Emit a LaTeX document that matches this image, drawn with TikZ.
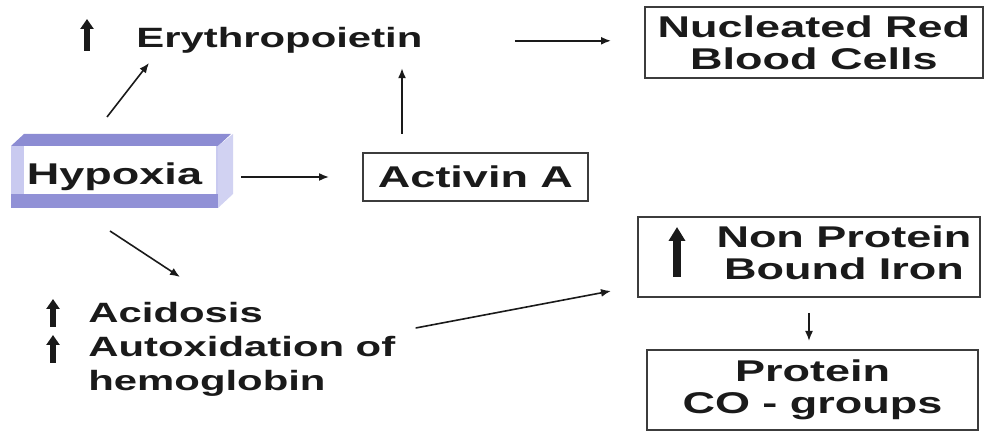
\documentclass[tikz,border=0pt]{standalone}
\usepackage{fontspec}
\setmainfont{Liberation Sans}
\usepackage{graphicx}
\usetikzlibrary{arrows.meta,calc,backgrounds}

\definecolor{ink}{HTML}{1A1A1A}
\definecolor{bevtop}{HTML}{8C8CD3}
\definecolor{bevside}{HTML}{C9CAF0}
\definecolor{bevbot}{HTML}{9191D6}

\newcommand{\wide}[1]{\scalebox{1.5}[1]{#1}}

\tikzset{
	txt/.style={font=\fontsize{13.95}{17}\selectfont\bfseries, text=ink, inner sep=0pt},
	flowbox/.style={draw=ink!85, line width=1pt, font=\fontsize{15}{16}\selectfont\bfseries, text=ink, align=center, inner sep=0pt},
	conn/.style={-{Latex[length=5pt,width=4pt]}, line width=0.8pt, ink},
	bigup/.style={-{Triangle[length=5pt,width=6.5pt]}, line width=3.2pt, ink},
}

\begin{document}
\begin{tikzpicture}[x=0.5pt, y=-0.5pt]
	\useasboundingbox (0,0) rectangle (990,432);

	\node[flowbox, draw=none, minimum width=102.5pt, minimum height=30pt] (hyp) at (114.5,177) {\wide{Hypoxia}};
	\node[txt, anchor=base west] (ery) at (136,48) {\wide{Erythropoietin}};
	\node[flowbox, minimum width=169pt, minimum height=35.5pt] (nrbc) at (814,42.5) {\wide{Nucleated Red}\\\wide{Blood Cells}};
	\node[flowbox, minimum width=112.5pt, minimum height=24pt] (act) at (475.5,177) {\wide{Activin A}};
	\node[txt, anchor=north west, align=left] (eff) at (88,302) {\wide{Acidosis}\\\wide{Autoxidation of}\\\wide{hemoglobin}};
	\node[flowbox, minimum width=171pt, minimum height=40pt] (npbi) at (809,257) {\hspace*{35pt}\begin{tabular}{@{}c@{}}\wide{Non Protein}\\\wide{Bound Iron}\end{tabular}};
	\node[flowbox, minimum width=165.5pt, minimum height=40pt] (prot) at (812.5,390) {\wide{Protein}\\\wide{CO - groups}};

	\begin{scope}[on background layer]
		\fill[bevside] (hyp.north west) rectangle (hyp.south east);
		\fill[bevtop] (hyp.north west) -- ++(13,-12) -- ++(207,0) -- (hyp.north east) -- cycle;
		\fill[bevside!85] (hyp.north east) -- ++(15,-12) -- ++(0,60) -- (hyp.south east) -- cycle;
		\fill[bevbot] ($(hyp.south west)+(0,-14)$) rectangle (hyp.south east);
		\fill[white] ($(hyp.north west)+(13,0)$) rectangle ($(hyp.south east)+(-2,-14)$);
	\end{scope}

	\draw[bigup] (87,51) -- (87,19);
	\draw[bigup] (53,327) -- (53,299);
	\draw[bigup] (53,363) -- (53,335);
	\draw[bigup, line width=4pt, -{Triangle[length=7pt,width=8pt]}] (677,277) -- (677,227);

	\draw[conn] ($(hyp.north)+(-7.5,-29)$) -- ($(ery.base west)+(13,15)$);
	\draw[conn, shorten <=46pt, shorten >=16.5pt] (ery.east) -- (ery.east -| nrbc.west);
	\draw[conn] ($(act.north west)+(40,-18)$) -- ($(act.north west |- ery.south)+(40,14)$);
	\draw[conn, shorten <=11.5pt, shorten >=16.5pt] (hyp.east) -- (act.west);
	\draw[conn] ($(hyp.south)+(-4.5,23)$) -- ($(eff.north west)+(92,-25)$);
	\draw[conn] ($(eff.north east)+(20,26)$) -- ($(npbi.south west)+(-26,-7)$);
	\draw[conn, shorten <=7.5pt, shorten >=4pt] (npbi.south) -- (npbi.south |- prot.north);

\end{tikzpicture}
\end{document}
